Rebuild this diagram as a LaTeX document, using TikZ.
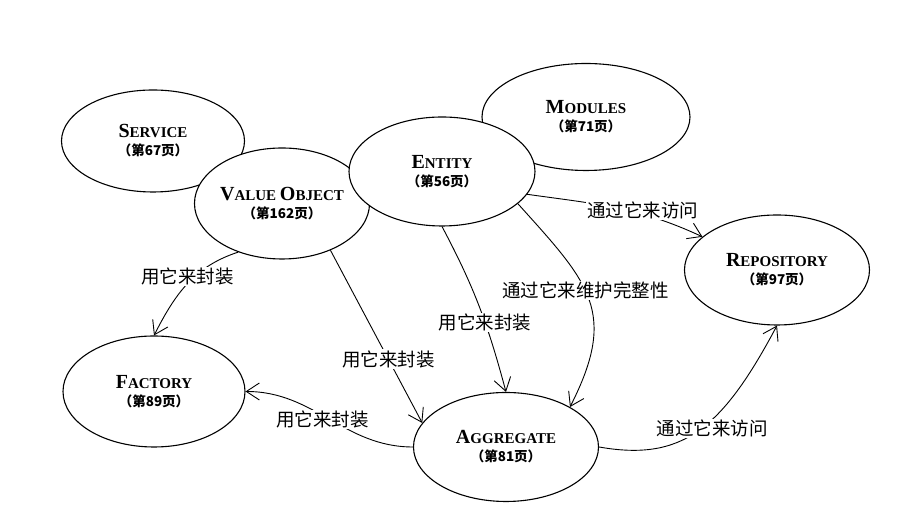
\documentclass[tikz,border=0pt]{standalone}
\usepackage{fontspec}
\setmainfont{Liberation Serif}
\newfontfamily\cjkfont{Noto Sans CJK SC}
\usetikzlibrary{shapes.geometric,arrows.meta}

\newcommand\capsname[2]{{\fontsize{20}{20}\selectfont #1}{\fontsize{15}{15}\selectfont #2}}
\newcommand\pagenum[1]{{\cjkfont\bfseries\fontsize{13.5}{14}\selectfont （第#1页）}}

\begin{document}
\begin{tikzpicture}[x=1pt, y=1pt, line join=round]

% Define styles
\tikzstyle{concept} = [ellipse, draw=black, fill=white, line width=1.1pt, inner sep=0pt, align=center, font=\bfseries\fontsize{15}{18}\selectfont]
\tikzstyle{link} = [line width=0.9pt, -{Straight Barb[length=13pt, width=17pt]}]
\tikzstyle{note} = [fill=white, inner sep=1pt, font=\cjkfont\fontsize{18.5}{18.5}\selectfont]

\useasboundingbox [fill=white] (0,0) rectangle (898,513);

% Concepts (back to front)
\node (service) [concept, minimum width=183pt, minimum height=102pt] at (153,372) {\capsname{S}{ERVICE}\\\pagenum{67}};
\node (modules) [concept, minimum width=208pt, minimum height=107pt] at (586,396) {\capsname{M}{ODULES}\\\pagenum{71}};
\node (vo) [concept, minimum width=174pt, minimum height=111pt] at (282,309.5) {\capsname{V}{ALUE }\capsname{O}{BJECT}\\\pagenum{162}};
\node (entity) [concept, minimum width=186pt, minimum height=109pt] at (442,341.5) {\capsname{E}{NTITY}\\\pagenum{56}};
\node (repository) [concept, minimum width=185pt, minimum height=110pt] at (777,243) {\capsname{R}{EPOSITORY}\\\pagenum{97}};
\node (factory) [concept, minimum width=182pt, minimum height=111pt] at (154,121.5) {\capsname{F}{ACTORY}\\\pagenum{89}};
\node (aggregate) [concept, minimum width=185pt, minimum height=109pt] at (506,66) {\capsname{A}{GGREGATE}\\\pagenum{81}};

% Connections
\draw [link] (vo.228) to[out=198, in=63] node[note, pos=0.5, yshift=7pt] {用它来封装} (factory.north);
\draw [link] (vo.316) -- node[note, pos=0.63] {用它来封装} (aggregate.164);
\draw [link] (aggregate.west) to[out=180, in=0] node[note, pos=0.5, xshift=-7pt] {用它来封装} (factory.east);
\draw [link] (entity.south) to[out=-62, in=105] node[note, pos=0.6] {用它来封装} (aggregate.north);
\draw [link] (entity.337) to[out=-48, in=63, looseness=1.3] node[note, pos=0.45] {通过它来维护完整性} (aggregate.32);
\draw [link] (entity.345) to[out=-8, in=155] node[note, pos=0.66, yshift=4pt] {通过它来访问} (repository.156);
\draw [link] (aggregate.east) to[out=-10, in=242, out looseness=1, in looseness=1.4] node[note, pos=0.55, yshift=-4pt, xshift=6pt] {通过它来访问} (repository.south);

\end{tikzpicture}
\end{document}
